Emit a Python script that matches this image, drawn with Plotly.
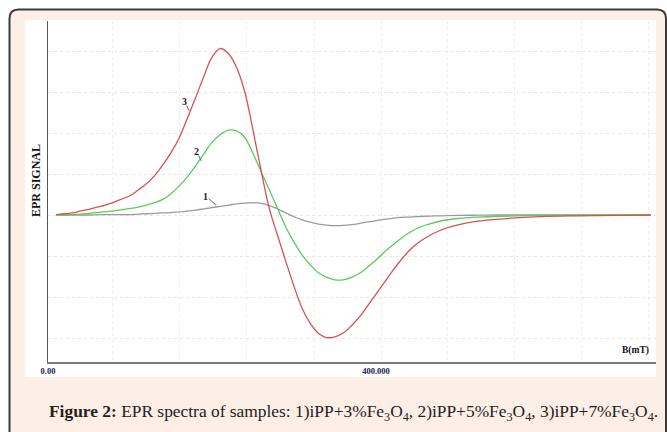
import plotly.graph_objects as go

# ---- data (B in mT, EPR signal in grid units) ----
B = [10, 20, 30, 40, 50, 60, 70, 80, 90, 100, 110, 120, 130, 140, 150, 160, 170,
     180, 190, 200, 210, 220, 230, 240, 250, 260, 270, 280, 290, 300, 310, 320,
     330, 340, 350, 360, 370, 380, 390, 400, 410, 420, 430, 440, 450, 460, 480,
     500, 525, 550, 600, 650, 700, 735]
sample1 = [0.0, 0.0, 0.0, 0.0, 0.0, 0.005, 0.01, 0.01, 0.01, 0.01, 0.02, 0.03,
           0.04, 0.05, 0.06, 0.075, 0.095, 0.12, 0.15, 0.18, 0.21, 0.24, 0.27,
           0.29, 0.30, 0.285, 0.23, 0.15, 0.05, -0.04, -0.12, -0.175, -0.22,
           -0.245, -0.26, -0.255, -0.235, -0.205, -0.17, -0.135, -0.105, -0.08,
           -0.06, -0.05, -0.04, -0.03, -0.02, -0.01, -0.005, 0.0, 0.0, 0.0, 0.0, 0.0]
sample2 = [0.0, 0.0, 0.01, 0.02, 0.04, 0.06, 0.08, 0.10, 0.13, 0.16, 0.19, 0.24,
           0.30, 0.38, 0.52, 0.71, 0.93, 1.20, 1.49, 1.77, 1.96, 2.07, 2.05, 1.89,
           1.50, 1.05, 0.61, 0.16, -0.30, -0.66, -0.98, -1.22, -1.41, -1.52, -1.58,
           -1.58, -1.52, -1.42, -1.27, -1.10, -0.91, -0.74, -0.58, -0.44, -0.33,
           -0.25, -0.14, -0.085, -0.05, -0.03, -0.01, 0.0, 0.0, 0.0]
sample3 = [0.01, 0.03, 0.05, 0.10, 0.14, 0.19, 0.24, 0.31, 0.39, 0.47, 0.61, 0.76,
           0.96, 1.22, 1.52, 1.88, 2.36, 2.86, 3.38, 3.85, 4.06, 3.94, 3.60, 3.00,
           2.07, 1.07, 0.15, -0.50, -1.13, -1.74, -2.28, -2.65, -2.89, -2.99, -2.97,
           -2.88, -2.70, -2.48, -2.21, -1.93, -1.65, -1.37, -1.11, -0.88, -0.70,
           -0.56, -0.36, -0.24, -0.15, -0.10, -0.04, -0.02, -0.01, 0.0]
series_names = ["1", "2", "3"]
x_tick_vals = [0, 400]
x_tick_text = ["0.00", "400.000"]
x_grid_vals = [79.0, 160.5, 242.4, 324.4, 406.1, 487.4, 569.5, 651.2, 732.9]
y_grid_vals = [-3, -2, -1, 0, 1, 2, 3, 4]
caption = ("<b>Figure 2:</b> EPR spectra of samples: 1)iPP+3%Fe<sub>3</sub>O<sub>4</sub>, "
           "2)iPP+5%Fe<sub>3</sub>O<sub>4</sub>, 3)iPP+7%Fe<sub>3</sub>O<sub>4</sub>.")

W, H = 667, 432
def px(x):
    return x / W
def py(y):
    return (H - y) / H

SERIF = "Liberation Serif"
colors = {"1": "#9b9b9b", "2": "#5ccb5c", "3": "#d65252"}

fig = go.Figure()
for name, vals in zip(series_names, [sample1, sample2, sample3]):
    fig.add_trace(go.Scatter(x=B, y=vals, mode="lines", name=name,
                             line=dict(color=colors[name], width=1.3, shape="spline", smoothing=1.0),
                             showlegend=False, hoverinfo="skip"))

shapes = []
# rounded peach frame
x0, y0, r = 9.5, 9.5, 9
path = (f"M {px(x0)},{py(H+10)} L {px(x0)},{py(y0+r)} Q {px(x0)},{py(y0)} {px(x0+r)},{py(y0)} "
        f"L {px(W-r-1)},{py(y0)} Q {px(W-1)},{py(y0)} {px(W-1)},{py(y0+r)} L {px(W-1)},{py(H+10)} Z")
shapes.append(dict(type="path", xref="paper", yref="paper", path=path,
                   fillcolor="#fdeee6", line=dict(color="#3a3a3a", width=2), layer="below"))
shapes.append(dict(type="rect", xref="paper", yref="paper",
                   x0=px(25), x1=px(656), y0=py(377), y1=py(20),
                   fillcolor="white", line=dict(width=0), layer="below"))

annotations = []
# series labels with leader lines: (series, tip B, tip y, arrow tail offset, text shift)
label_specs = [
    ("3", 172.0, 2.54, (-3, -7), (-4.5, 9)),
    ("2", 186.6, 1.32, (-3, -7), (-4.7, 9.3)),
    ("1", 204.9, 0.24, (-9, -8), (-11, 8.3)),
]
for name, xb, yv, (ax, ay), (xs, ys) in label_specs:
    annotations.append(dict(x=xb, y=yv, xref="x", yref="y", text="", showarrow=True,
                            ax=ax, ay=ay, axref="pixel", ayref="pixel", arrowhead=0,
                            arrowwidth=0.8, arrowcolor="#444", standoff=0, startstandoff=0))
    annotations.append(dict(x=xb, y=yv, xref="x", yref="y", text=f"<b>{name}</b>",
                            showarrow=False, xshift=xs, yshift=ys,
                            xanchor="center", yanchor="middle",
                            font=dict(family=SERIF, size=10, color="#222")))

annotations.append(dict(x=px(36), y=py(181), xref="paper", yref="paper", text="<b>EPR SIGNAL</b>",
                        textangle=-90, showarrow=False, xanchor="center", yanchor="middle",
                        font=dict(family=SERIF, size=12, color="#111")))
annotations.append(dict(x=px(651), y=py(350), xref="paper", yref="paper", text="<b>B(mT)</b>",
                        xanchor="right", yanchor="middle", showarrow=False,
                        font=dict(family=SERIF, size=9.5, color="#111")))
annotations.append(dict(x=px(47), y=py(412), xref="paper", yref="paper", text=caption,
                        xanchor="left", yanchor="middle", showarrow=False,
                        font=dict(family=SERIF, size=17.4, color="#222")))

xr = (656 - 48) / 0.82
fig.update_layout(
    width=W, height=H, margin=dict(l=0, r=0, t=0, b=0, pad=0),
    paper_bgcolor="white", plot_bgcolor="rgba(0,0,0,0)",
    shapes=shapes, annotations=annotations,
    xaxis=dict(domain=[px(48), px(656)], range=[0, xr], automargin=False,
               tickmode="array", tickvals=x_tick_vals,
               ticktext=[f"<b>{t}</b>" for t in x_tick_text],
               tickfont=dict(family=SERIF, size=8.5, color="#1a1a55"),
               ticks="", ticklen=0, showgrid=False, zeroline=False,
               showline=True, linecolor="#7a7a7a", linewidth=1.5,
               minor=dict(tickmode="array", tickvals=x_grid_vals, showgrid=True,
                          gridcolor="#ececec", griddash="dot", gridwidth=1, ticks="")),
    yaxis=dict(domain=[py(361.7), py(21)], range=[(215 - 361.7) / 41, (215 - 21) / 41],
               automargin=False,
               tickmode="array", tickvals=y_grid_vals, showticklabels=False, ticks="",
               showgrid=True, gridcolor="#e6e6e6", griddash="dot", gridwidth=1,
               zeroline=False, showline=True, linecolor="#555", linewidth=1),
)
fig.write_html("out.html", config={"displayModeBar": False},
               post_script="document.body.style.margin='0px';document.body.style.overflow='hidden';")
